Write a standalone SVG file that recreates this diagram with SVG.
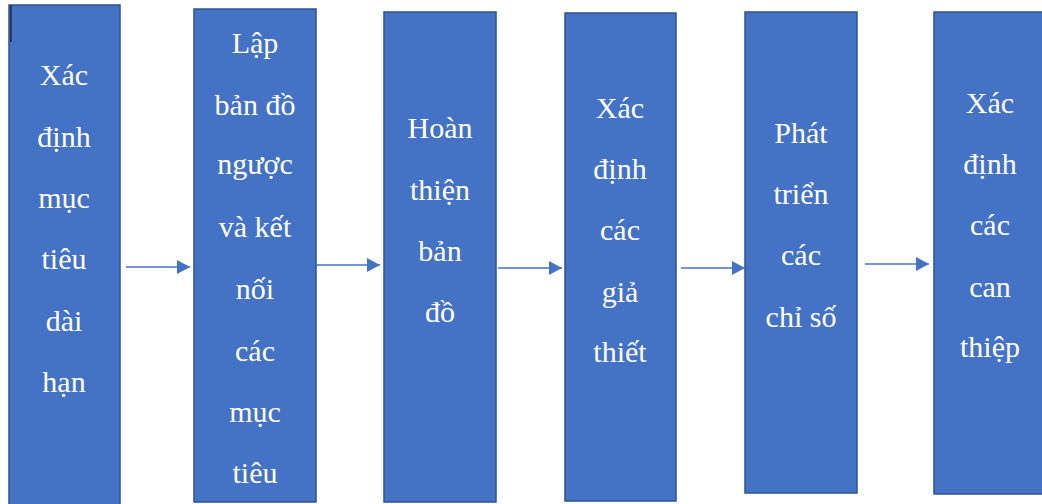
<svg xmlns="http://www.w3.org/2000/svg" width="1042" height="504" viewBox="0 0 1042 504">
  <defs>
    <style>
      .box { fill: #4472C4; stroke: #2F528F; stroke-width: 1.5; }
      .lbl { fill: #FFFFFF; font-family: 'Liberation Serif', 'DejaVu Serif', serif; font-size: 30px; text-anchor: middle; }
      .conn { stroke: #4472C4; stroke-width: 1.5; fill: none; marker-end: url(#arrow); }
    </style>
    <marker id="arrow" viewBox="0 0 13 14" refX="13" refY="7" markerWidth="13" markerHeight="14" markerUnits="userSpaceOnUse" orient="auto">
      <path d="M0,0 L13,7 L0,14 Z" fill="#4472C4"/>
    </marker>
  </defs>
  <rect width="1042" height="504" fill="#FFFFFF"/>

  <g id="step1">
    <rect class="box" x="9" y="5" width="111" height="510"/>
    <line x1="11" y1="5" x2="11" y2="42" stroke="#1F2A40" stroke-width="1.5"/>
    <text class="lbl" x="64" y="85">Xác</text>
    <text class="lbl" x="64" y="147">định</text>
    <text class="lbl" x="64" y="208">mục</text>
    <text class="lbl" x="64" y="269">tiêu</text>
    <text class="lbl" x="64" y="331">dài</text>
    <text class="lbl" x="64" y="392">hạn</text>
  </g>

  <g id="step2">
    <rect class="box" x="194" y="9" width="122" height="493"/>
    <text class="lbl" x="255" y="53">Lập</text>
    <text class="lbl" x="255" y="115">bản đồ</text>
    <text class="lbl" x="255" y="174">ngược</text>
    <text class="lbl" x="255" y="237">và kết</text>
    <text class="lbl" x="255" y="299">nối</text>
    <text class="lbl" x="255" y="361">các</text>
    <text class="lbl" x="255" y="422">mục</text>
    <text class="lbl" x="255" y="483">tiêu</text>
  </g>

  <g id="step3">
    <rect class="box" x="384" y="12" width="112" height="490"/>
    <text class="lbl" x="440" y="138">Hoàn</text>
    <text class="lbl" x="440" y="200">thiện</text>
    <text class="lbl" x="440" y="261">bản</text>
    <text class="lbl" x="440" y="322">đồ</text>
  </g>

  <g id="step4">
    <rect class="box" x="565" y="13" width="111" height="488"/>
    <text class="lbl" x="620" y="118">Xác</text>
    <text class="lbl" x="620" y="179">định</text>
    <text class="lbl" x="620" y="240">các</text>
    <text class="lbl" x="620" y="302">giả</text>
    <text class="lbl" x="620" y="362">thiết</text>
  </g>

  <g id="step5">
    <rect class="box" x="745" y="12" width="112" height="481"/>
    <text class="lbl" x="801" y="143">Phát</text>
    <text class="lbl" x="801" y="204">triển</text>
    <text class="lbl" x="801" y="265">các</text>
    <text class="lbl" x="801" y="327">chỉ số</text>
  </g>

  <g id="step6">
    <rect class="box" x="934" y="12" width="112" height="482"/>
    <text class="lbl" x="990" y="113">Xác</text>
    <text class="lbl" x="990" y="174">định</text>
    <text class="lbl" x="990" y="235">các</text>
    <text class="lbl" x="990" y="297">can</text>
    <text class="lbl" x="990" y="357">thiệp</text>
  </g>

  <g id="connectors">
    <line class="conn" x1="126" y1="267" x2="190" y2="267"/>
    <line class="conn" x1="316" y1="265" x2="380" y2="265"/>
    <line class="conn" x1="498" y1="268" x2="562" y2="268"/>
    <line class="conn" x1="681" y1="268" x2="745" y2="268"/>
    <line class="conn" x1="865" y1="264" x2="929" y2="264"/>
  </g>
</svg>
